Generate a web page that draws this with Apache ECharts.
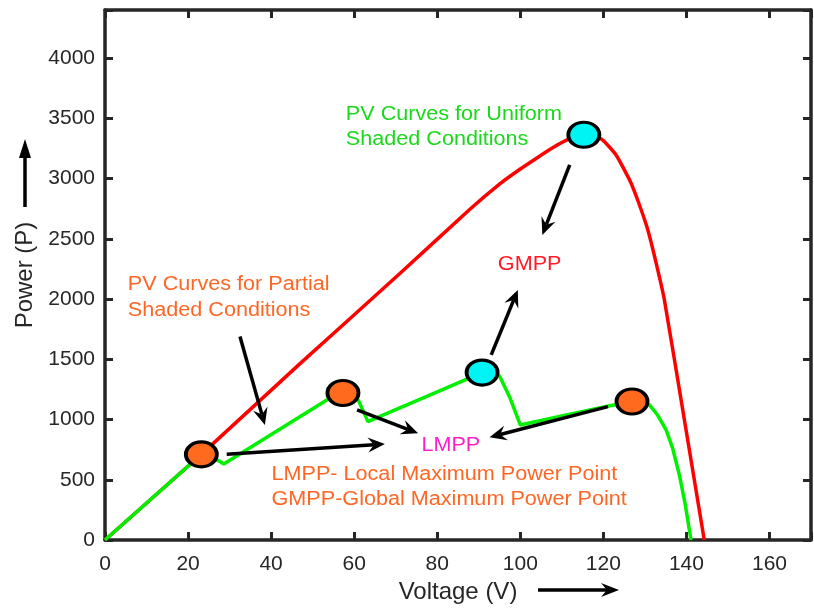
<!DOCTYPE html>
<html>
<head>
<meta charset="utf-8">
<script src="https://cdn.jsdelivr.net/npm/echarts@6/dist/echarts.min.js"></script>
<style>
  html, body { margin: 0; padding: 0; background: #fff; }
  #chart { width: 814px; height: 614px; }
</style>
</head>
<body>
<div id="chart"></div>
<script>
// Axis tick labels
const xTickLabels = ['0', '20', '40', '60', '80', '100', '120', '140', '160'];
const yTickLabels = ['0', '500', '1000', '1500', '2000', '2500', '3000', '3500', '4000'];

// P-V curve under uniform irradiance (single peak)
const uniformV = [0, 23.2, 46.9, 71, 88, 95, 100, 104, 108, 111.5, 115.3, 117.5, 119.8, 123, 126.3, 128.5, 130.7, 132.7, 134.7, 139.5, 144.3];
const uniformP = [0, 711, 1462, 2212, 2750, 2955, 3080, 3172, 3260, 3325, 3364, 3352, 3322, 3200, 2990, 2800, 2575, 2300, 1993, 1000, 0];

// P-V curve under partial shading (multiple peaks)
const partialV = [0, 23.2, 25.5, 27.5, 28.6, 54.1, 57.3, 59.5, 61, 62.2, 63.3, 71, 80, 87, 90.8, 93, 95, 97.4, 100, 110, 120.7, 126.9, 129, 131.1, 133, 135.1, 136.7, 138.3, 139.7, 141.1];
const partialP = [0, 711, 690, 655, 631, 1177, 1220, 1200, 1160, 1070, 983, 1097, 1230, 1334, 1390, 1385, 1362, 1190, 955, 1030, 1108, 1150, 1145, 1121, 1040, 915, 760, 540, 300, 0];

// Maximum power points (local and global)
const mppV = [23.2, 57.3, 90.8, 126.9, 115.3];
const mppP = [711, 1220, 1390, 1150, 3364];
const mppKind = ['local', 'local', 'global', 'local', 'global'];

const FONT = 'Liberation Sans, Arial, Helvetica, sans-serif';
const AXIS_COLOR = '#262626';

const zip = (xs, ys) => xs.map((x, i) => [x, ys[i]]);

// Annotation arrows in data coordinates: [fromV, fromP, toV, toP]
const arrowSegments = [
  [32.5, 1689, 38.5, 955],
  [29.3, 712, 67.4, 797],
  [60.7, 1080, 75.4, 886],
  [121.1, 1107, 92.6, 853],
  [93.0, 1537, 99.4, 2076],
  [111.9, 3115, 105.3, 2533]
];

// Annotation texts, anchored left-middle in data coordinates
const notes = [
  { text: 'PV Curves for Uniform', at: [58.0, 3530], color: '#1ad81a' },
  { text: 'Shaded Conditions', at: [58.0, 3322], color: '#1ad81a' },
  { text: 'PV Curves for Partial', at: [5.5, 2118], color: '#ff6624' },
  { text: 'Shaded Conditions', at: [5.5, 1902], color: '#ff6624' },
  { text: 'GMPP', at: [94.6, 2284], color: '#ff1a24' },
  { text: 'LMPP', at: [76.2, 783], color: '#ff1fc8' },
  { text: 'LMPP- Local Maximum Power Point', at: [40.1, 548], color: '#ff6624' },
  { text: 'GMPP-Global Maximum Power Point', at: [40.1, 338], color: '#ff6624' }
];

function arrowShape(p1, p2, width, headLen, headHalf, notch) {
  const dx = p2[0] - p1[0], dy = p2[1] - p1[1];
  const len = Math.hypot(dx, dy);
  const ux = dx / len, uy = dy / len, nx = -uy, ny = ux;
  const back = [p2[0] - ux * notch, p2[1] - uy * notch];
  return [
    { type: 'line', shape: { x1: p1[0], y1: p1[1], x2: back[0], y2: back[1] },
      style: { stroke: '#000', lineWidth: width } },
    { type: 'polygon', shape: { points: [
        [p2[0], p2[1]],
        [p2[0] - ux * headLen + nx * headHalf, p2[1] - uy * headLen + ny * headHalf],
        back,
        [p2[0] - ux * headLen - nx * headHalf, p2[1] - uy * headLen - ny * headHalf]
      ] }, style: { fill: '#000' } }
  ];
}

const chart = echarts.init(document.getElementById('chart'), null, { renderer: 'canvas' });

const xLabel = v => { const i = Math.round(v / 20); return (v % 20 === 0 && i < xTickLabels.length) ? xTickLabels[i] : ''; };
const yLabel = v => { const i = Math.round(v / 500); return (v % 500 === 0 && i < yTickLabels.length) ? yTickLabels[i] : ''; };

const axisCommon = {
  axisLine: { show: true, onZero: false, lineStyle: { color: AXIS_COLOR, width: 3.5 } },
  axisTick: { show: true, inside: true, length: 8, lineStyle: { color: AXIS_COLOR, width: 3 } },
  splitLine: { show: false }
};

chart.setOption({
  animation: false,
  backgroundColor: '#fff',
  textStyle: { fontFamily: FONT },
  grid: { left: 105, right: 2, top: 10, bottom: 74, containLabel: false },
  xAxis: [
    Object.assign({}, axisCommon, {
      type: 'value', min: 0, max: 170, interval: 20, position: 'bottom',
      name: 'Voltage (V)', nameLocation: 'middle', nameGap: 40,
      nameTextStyle: { fontSize: 24, color: AXIS_COLOR, fontFamily: FONT },
      axisLabel: { formatter: xLabel, fontSize: 21, color: AXIS_COLOR, margin: 14, fontFamily: FONT }
    }),
    Object.assign({}, axisCommon, {
      type: 'value', min: 0, max: 170, interval: 20, position: 'top',
      axisLabel: { show: false }
    })
  ],
  yAxis: [
    Object.assign({}, axisCommon, {
      type: 'value', min: 0, max: 4400, interval: 500, position: 'left',
      name: 'Power (P)', nameLocation: 'middle', nameGap: 66,
      nameTextStyle: { fontSize: 24, color: AXIS_COLOR, fontFamily: FONT },
      axisLabel: { formatter: yLabel, fontSize: 21, color: AXIS_COLOR, margin: 10, fontFamily: FONT }
    }),
    Object.assign({}, axisCommon, {
      type: 'value', min: 0, max: 4400, interval: 500, position: 'right',
      axisLabel: { show: false }
    })
  ],
  series: [
    {
      name: 'Uniform', type: 'line', xAxisIndex: 0, yAxisIndex: 0,
      data: zip(uniformV, uniformP), showSymbol: false, symbol: 'none', smooth: 0.15,
      lineStyle: { color: '#ff0000', width: 3.5 }, z: 2
    },
    {
      name: 'Partial', type: 'line', xAxisIndex: 0, yAxisIndex: 0,
      data: zip(partialV, partialP), showSymbol: false, symbol: 'none',
      lineStyle: { color: '#00f000', width: 3.5 }, z: 3
    },
    {
      name: 'Arrows', type: 'custom', xAxisIndex: 0, yAxisIndex: 0, z: 4,
      data: arrowSegments, encode: { x: [0, 2], y: [1, 3] }, clip: false,
      renderItem: (params, api) => {
        const p1 = api.coord([api.value(0), api.value(1)]);
        const p2 = api.coord([api.value(2), api.value(3)]);
        return { type: 'group', children: arrowShape(p1, p2, 3.5, 17, 7.5, 11) };
      }
    },
    {
      name: 'MPP', type: 'scatter', xAxisIndex: 0, yAxisIndex: 0, z: 5,
      data: mppV.map((v, i) => ({
        value: [v, mppP[i]],
        itemStyle: { color: mppKind[i] === 'global' ? '#00f4f4' : '#ff6a1f' }
      })),
      symbol: 'circle', symbolSize: [31, 25],
      itemStyle: { borderColor: '#000', borderWidth: 3.5, opacity: 1 }
    }
  ]
});

// Text notes and the axis direction arrows
const graphics = notes.map(n => {
  const p = chart.convertToPixel({ xAxisIndex: 0, yAxisIndex: 0 }, n.at);
  return {
    type: 'text', x: p[0], y: p[1], scaleX: 1.08, z: 10,
    style: { text: n.text, fill: n.color, fontSize: 20, fontFamily: FONT, align: 'left', verticalAlign: 'middle' }
  };
});
graphics.push({ type: 'group', z: 10, children: arrowShape([538, 590], [619, 590], 3.5, 18, 7, 12) });
graphics.push({ type: 'group', z: 10, children: [
  { type: 'line', shape: { x1: 25, y1: 207, x2: 25, y2: 156 }, style: { stroke: '#000', lineWidth: 3.5 } },
  { type: 'polygon', shape: { points: [[25, 139], [19, 158], [31, 158]] }, style: { fill: '#000' } }
] });

chart.setOption({ graphic: graphics });
</script>
</body>
</html>
